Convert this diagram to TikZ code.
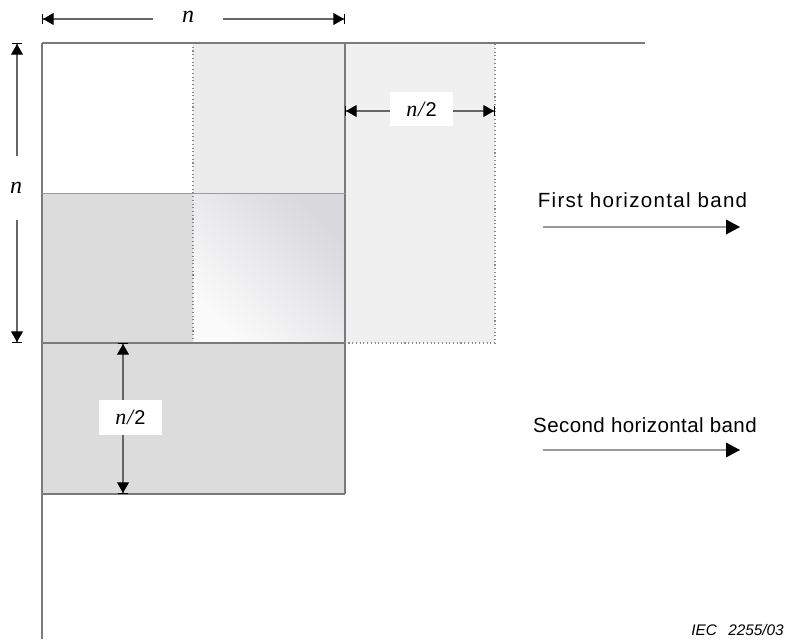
\documentclass[tikz,border=0pt]{standalone}
\usepackage{fontspec}
\setmainfont{Liberation Sans}
\newfontfamily\seriffont{Liberation Serif}
\usetikzlibrary{arrows.meta}
\definecolor{linegrey}{HTML}{7A7A7A}
\definecolor{thingrey}{HTML}{9A9A9A}
\definecolor{bandgrey}{HTML}{DCDCDC}
\definecolor{lightgrey}{HTML}{ECECEC}
\definecolor{rightgrey}{HTML}{F0F0F0}
\definecolor{shadetop}{HTML}{D8D8DD}
\definecolor{shadebot}{HTML}{FBFBFB}
\definecolor{dotgrey}{HTML}{8A8A8A}
\newcommand{\halftext}{{\seriffont\itshape\fontsize{16.5}{19}\selectfont n\kern0.5pt/\kern1pt}2}
\begin{document}
\begin{tikzpicture}[x=0.75pt,y=-0.75pt,
  edge/.style={draw=linegrey, line width=1.1pt},
  thinedge/.style={draw=thingrey, line width=0.7pt},
  dotedge/.style={draw=dotgrey, line width=0.8pt, dash pattern=on 0.8pt off 2pt},
  dim/.style={draw=black!60, line width=0.8pt,
    {Bar[width=8pt,line width=0.8pt,black]Triangle[length=8pt,width=9pt,black]}-{Triangle[length=8pt,width=9pt,black]Bar[width=8pt,line width=0.8pt,black]}},
  bandarrow/.style={draw=thingrey, line width=1pt, -{Triangle[length=10.5pt,width=11pt,black]}},
  nlabel/.style={fill=white, inner sep=0pt, font=\seriffont\itshape\fontsize{18}{21}\selectfont},
  halflabel/.style={fill=white, inner sep=0pt, minimum width=47pt, minimum height=26pt, font=\fontsize{15}{18}\selectfont},
  bandtext/.style={inner sep=0pt, anchor=base, font=\fontsize{15.4}{18}\selectfont}
]
\useasboundingbox (0,0) rectangle (787,639);
\fill[white] (0,0) rectangle (787,639);
% fills
\fill[bandgrey] (42,193) rectangle (345,494);
\fill[lightgrey] (193,43) rectangle (345,343);
\fill[rightgrey] (345,43) rectangle (495,343);
\shade[shading=axis, top color=shadetop, bottom color=shadebot, shading angle=-45] (193,193) rectangle (345,343);
% dotted overlay rectangle
\draw[dotedge] (193,43) -- (193,343) -- (495,343) -- (495,43) -- cycle;
% solid lines
\draw[edge] (42,43) -- (645,43);
\draw[edge] (42,43) -- (42,639);
\draw[edge] (345,43) -- (345,494);
\draw[thinedge] (42,193) -- (345,193);
\draw[edge] (42,343) -- (345,343);
\draw[edge] (42,494) -- (345,494);
% dimension coordinates
\coordinate (tl) at (42,19);
\coordinate (tr) at (345,19);
\coordinate (lt) at (17,43);
\coordinate (lb) at (17,343);
\coordinate (hl) at (345,111);
\coordinate (hr) at (495,111);
\coordinate (vt) at (123,343);
\coordinate (vb) at (123,494);
\draw[dim] (tl) -- (tr);
\draw[dim] (lt) -- (lb);
\draw[dim] (hl) -- (hr);
\draw[dim] (vt) -- (vb);
\node[nlabel, minimum width=52pt, minimum height=14pt] (ntop) at (188,17) {n};
\node[nlabel, minimum width=20pt, minimum height=48pt] (nleft) at (16,188) {n};
\node[halflabel] (hhalf) at (421.5,109) {\halftext};
\node[halflabel] (vhalf) at (130.5,417.5) {\halftext};
% band labels
\node[bandtext] (first) at (642.5,207.5) {\addfontfeatures{LetterSpace=6.3}First horizontal band};
\node[bandtext] (second) at (645,432.5) {\addfontfeatures{LetterSpace=2}Second horizontal band};
\coordinate (f1) at (543,227);
\coordinate (f2) at (740,227);
\coordinate (s1) at (543,450);
\coordinate (s2) at (740,450);
\draw[bandarrow] (f1) -- (f2);
\draw[bandarrow] (s1) -- (s2);
% figure id
\node[inner sep=0pt, anchor=base east, font=\itshape\fontsize{11.5}{13}\selectfont] (iec) at (784,635) {IEC\hspace{0.75em}2255/03};
\end{tikzpicture}
\end{document}
